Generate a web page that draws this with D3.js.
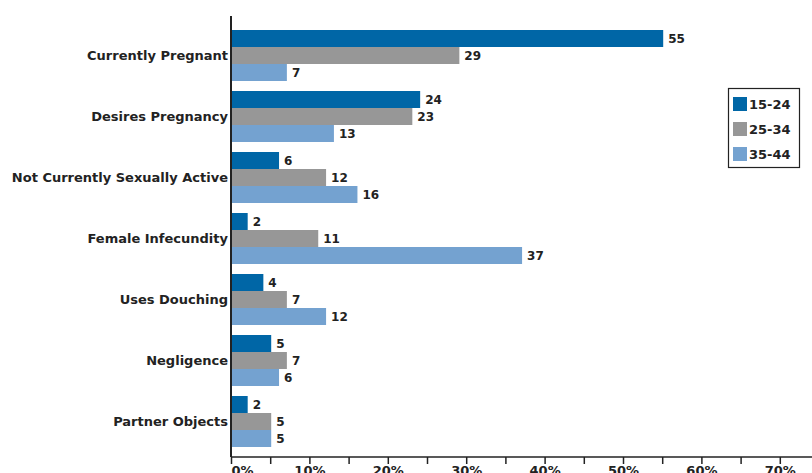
<!DOCTYPE html>
<html><head><meta charset="utf-8">
<script src="https://cdn.jsdelivr.net/npm/d3@7"></script>
<style>
html,body{margin:0;padding:0;background:#fff;overflow:hidden}
text{font-family:Verdana,"DejaVu Sans",sans-serif;font-weight:bold;fill:#222}
</style></head>
<body><svg id="c" width="812" height="473"></svg>
<script>
const categories = ["Currently Pregnant","Desires Pregnancy","Not Currently Sexually Active","Female Infecundity","Uses Douching","Negligence","Partner Objects"];
const seriesNames = ["15-24","25-34","35-44"];
const age15_24 = [55,24,6,2,4,5,2];
const age25_34 = [29,23,12,11,7,7,5];
const age35_44 = [7,13,16,37,12,6,5];
const tickValues = [0,5,10,15,20,25,30,35,40,45,50,55,60,65,70,75,80];
const colors = ["#0066a6","#979797","#74a2d0"];

const series = [age15_24, age25_34, age35_44];
const svg = d3.select("#c");
const axisX = 231, axisY = 457, axisTop = 16;

const x = d3.scaleLinear().domain([0,80]).range([axisX, axisX + 80*7.84]);
const y0 = d3.scaleBand().domain(categories).range([25,452]).paddingInner(10/61).paddingOuter(5/61);
const y1 = d3.scaleBand().domain(seriesNames).range([0, y0.bandwidth()]);

const g = svg.append("g");
categories.forEach((cat, i) => {
  const gg = g.append("g").attr("transform", `translate(0,${y0(cat)})`);
  seriesNames.forEach((s, j) => {
    const v = series[j][i];
    gg.append("rect")
      .attr("x", x(0)+1).attr("y", y1(s))
      .attr("width", x(v)-x(0)).attr("height", y1.bandwidth())
      .attr("fill", colors[j]);
    gg.append("text")
      .attr("x", x(v)+6).attr("y", y1(s)+y1.bandwidth()/2)
      .attr("dy","0.36em").attr("font-size","12px")
      .text(v);
  });
  g.append("text")
    .attr("x", axisX-3).attr("y", y0(cat)+y0.bandwidth()/2)
    .attr("dy","0.36em").attr("text-anchor","end").attr("font-size","13px")
    .text(cat);
});

// x axis
const xAxis = d3.axisBottom(x).tickValues(tickValues).tickSize(7)
  .tickFormat(d => d % 10 === 0 ? d + "%" : "");
const ax = svg.append("g").attr("transform", `translate(0,${axisY})`).call(xAxis);
ax.select(".domain").remove();
ax.selectAll(".tick line").attr("stroke","#222").attr("stroke-width",1.5);
ax.selectAll(".tick text").attr("font-size","13px").attr("y",9).attr("dy","0.71em")
  .style("font-family","Verdana,'DejaVu Sans',sans-serif").style("font-weight","bold").attr("fill","#222");
ax.selectAll(".tick").filter(d => d === 0).select("text").attr("text-anchor","start").attr("x",0);

svg.append("line").attr("x1",axisX).attr("x2",812).attr("y1",axisY).attr("y2",axisY)
  .attr("stroke","#222").attr("stroke-width",1.5);
svg.append("line").attr("x1",axisX).attr("x2",axisX).attr("y1",axisTop).attr("y2",axisY)
  .attr("stroke","#222").attr("stroke-width",2);

// legend
const lg = svg.append("g");
lg.append("rect").attr("x",728.5).attr("y",88.5).attr("width",71).attr("height",79)
  .attr("fill","#fff").attr("stroke","#222").attr("stroke-width",1.2);
seriesNames.forEach((s, j) => {
  const cy = 104 + j*25;
  lg.append("rect").attr("x",733).attr("y",cy-7).attr("width",14).attr("height",14).attr("fill",colors[j]);
  lg.append("text").attr("x",749).attr("y",cy).attr("dy","0.36em").attr("font-size","13px").text(s);
});
</script></body></html>
